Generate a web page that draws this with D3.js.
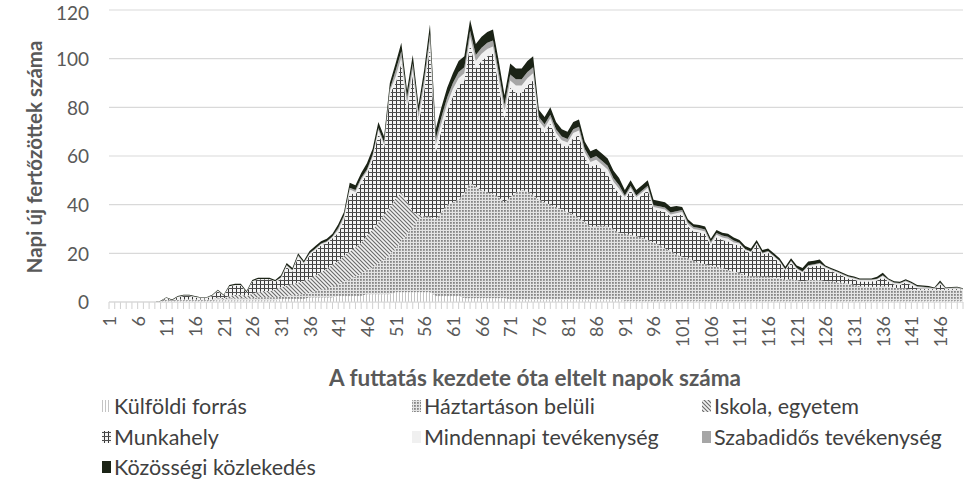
<!DOCTYPE html>
<html><head><meta charset="utf-8">
<script src="https://cdn.jsdelivr.net/npm/d3@7/dist/d3.min.js"></script>
<style>body{margin:0;background:#fff;} text{font-family:Lato,"Open Sans",sans-serif;}</style>
</head><body><svg id="c" width="966" height="484"></svg>
<script>
// ---- DATA ----
const days = d3.range(1, 151);
const xTickLabels = ["1","6","11","16","21","26","31","36","41","46","51","56","61","66","71","76","81","86","91","96","101","106","111","116","121","126","131","136","141","146"];
const yTicks = [0,20,40,60,80,100,120];
const seriesNames = ["Külföldi forrás","Háztartáson belüli","Iskola, egyetem","Munkahely","Mindennapi tevékenység","Szabadidős tevékenység","Közösségi közlekedés"];

const kulfoldi = [0,0,0,0,0,0,0,0,0,0.3,
 0.5,0.5,0.5,0.5,0.5,0.5,0.5,0.5,0.5,0.7,
 0.7,0.7,0.7,0.7,0.7,0.7,0.7,0.7,0.7,0.7,
 1.2,1.2,1.2,1.2,1.2,1.8,1.8,1.8,1.8,1.8,
 2.5,2.5,2.5,2.5,2.5,3.2,3.2,3.2,3.2,3.2,
 4,4,4,4,4,4,4,2.5,2.5,2.5,
 2.5,2.5,1.5,1.5,1.5,1.5,1.5,1.5,1.5,1.5,
 1,1,1,1,1,1,1,1,1,1,
 1,1,1,1,1,1,1,1,1,1,
 0.5,0.5,0.5,0.5,0.5,0.5,0.5,0.5,0.5,0.5,
 0.5,0.5,0.5,0.5,0.5,0.5,0.5,0.5,0.5,0.5,
 0.5,0.5,0.5,0.5,0.5,0.5,0.5,0.5,0.5,0.5,
 0.5,0.5,0.5,0.5,0.5,0.5,0.5,0.5,0.5,0.5,
 0.5,0.5,0.5,0.5,0.5,0.5,0.5,0.5,0.5,0.5,
 0.5,0.5,0.5,0.5,0.5,0.5,0.5,0.5,0.5,0.5];
const haztartas = [0,0,0,0,0,0,0,0,0,0,
 0.5,0,0.5,0.5,0.5,0.5,0.5,0.5,0.5,0.8,
 0.3,0.8,0.8,0.8,0.8,0.8,1.3,1.3,1.3,1.3,
 1,1.3,1.6,1.8,2.1,2,2.6,3.2,3.9,4.7,
 4.8,6,7,8,9,9.8,11.1,12.5,14.3,16.3,
 18,21,24,27,30,31,31,31.5,34.5,37.5,
 38.5,39.5,43.5,47.5,46,44.5,43.5,43,41.5,39.5,
 42,44,45,44.5,43,41,40,39,38,37,
 36,35,33.5,32,30,30,30.5,30,29,27.5,
 27.5,27,26.5,26,25,24,23,21.5,20.5,19,
 18.1,17.5,16.5,15.5,15,14.5,14,13.5,12.5,12,
 11.5,10.5,10,10,9.9,9.9,9.5,9.5,8.5,9,
 8.5,7.8,8.5,8.5,8.5,8,8,7.5,7.5,7,
 6.5,6,5.8,5.8,5.8,6,5.8,5.5,5,5,
 4.5,4.5,4.5,4.5,4.5,4.5,4.5,4.5,4.5,4.2];
const iskola = [0,0,0,0,0,0,0,0,0,0,
 0,0,0,0,0,0,0,0,0,0.5,
 0.5,1,1.5,1.5,1,2,2,2.5,2.5,3,
 4,4.3,4.6,5,5.3,5.8,6.5,7.2,8,8.8,
 9.6,10.5,11.3,12,13,14.3,15.5,17,18.5,19.5,
 20.5,20,13.5,6,2,0,0,0,0,0,
 0,0,0,0,0,0,0,0,0,0,
 0,0,0,0,0,0,0,0,0,0,
 0,0,0,0,0,0,0,0,0,0,
 0,0,0,0,0,0,0,0,0,0,
 0,0,0,0,0,0,0,0,0,0,
 0,0,0,0,0,0,0,0,0,0,
 0,0,0,0,0,0,0,0,0,0,
 0,0,0,0,0,0,0,0,0,0,
 0,0,0,0,0,0,0,0,0,0];
const munkahely = [0,0,0,0,0,0,0,0,0,0,
 0.5,0.1,1,1.5,1.5,1,0.5,0.5,1.5,2.5,
 1,3.8,3.8,3.8,1.3,4.8,5.3,4.8,4.8,3.3,
 3.2,7.6,5,10.4,6.8,9.6,10.3,11,10.5,10.9,
 11.6,14.5,24.2,21.5,24.5,25.2,28.7,36.8,27.5,46.5,
 47.5,53,37.5,56,37,52,70,27.5,33.5,38.5,
 43.5,47,46,57,48.5,53,56,57.5,46,34.5,
 45,41,40,43.5,47,30.5,28.5,33.5,28.5,26.5,
 26.5,31.5,34,26.5,24.5,25.5,23,21.5,17.5,16,
 14,18.5,15,17.5,20.5,13.5,14,15,14,16,
 17.4,13,12,12.6,12.5,8,12.1,11.5,12,11,
 11.5,10,9.5,13,9,9.8,8.2,6.2,3.7,6.7,
 4.2,3.4,5.3,5.7,6.2,5.2,4.2,3.7,2.7,2.2,
 2.2,1.9,2.1,2.1,2.5,3.7,2.1,1.2,1.5,2.5,
 2,0.7,0.5,0.5,0.2,2.2,0.2,0.4,0.4,0.2];
const mindennapi = [0,0,0,0,0,0,0,0,0,0,
 0.2,0.1,0.2,0.2,0.2,0.2,0.2,0.2,0.2,0.2,
 0.2,0.2,0.2,0.2,0.2,0.2,0.2,0.2,0.2,0.2,
 0.5,0.5,0.5,0.5,0.5,0.5,0.5,0.5,0.5,0.5,
 1.2,1.2,1.2,1.2,1.2,1.2,1.2,1.2,1.2,1.2,
 2.5,2.5,2.5,2.5,2.5,2.5,2.5,3,3,3,
 3,3,3,3,3,3,3,3,3,3,
 3,3,3,3,3,2,2,2,2,2,
 2,2,2,2,2,2,2,2,2,2,
 1,1,1,1,1,1,1,1,1,1,
 1,1,1,1,1,1,1,1,1,1,
 0.5,0.5,0.5,0.5,0.5,0.5,0.5,0.5,0.5,0.5,
 0.5,0.5,0.5,0.5,0.5,0.5,0.5,0.5,0.5,0.5,
 0.5,0.5,0.5,0.5,0.5,0.5,0.5,0.5,0.5,0.5,
 0.5,0.5,0.5,0.3,0.2,0.5,0.2,0.2,0.3,0.2];
const szabadido = [0,0,0,0,0,0,0,0,0,0,
 0,0,0,0,0,0,0,0,0,0,
 0,0,0,0,0,0,0,0,0,0,
 0.3,0.3,0.3,0.3,0.3,0.3,0.3,0.3,0.3,0.3,
 0.8,0.8,0.8,0.8,0.8,0.8,0.8,0.8,0.8,0.8,
 2.5,2.5,2.5,2.5,2.5,2.5,2.5,2.5,2.5,2.5,
 2.5,2.5,2.5,2.5,2.5,2.5,2.5,2.5,2.5,2.5,
 2.5,2.5,2.5,2.5,2.5,1.5,1.5,1.5,1.5,1.5,
 1.5,1.5,1.5,1.5,1.5,1.5,1.5,1.5,1.5,1.5,
 0.8,0.8,0.8,0.8,0.8,0.8,0.8,0.8,0.8,0.8,
 0.8,0.8,0.8,0.8,0.8,0.8,0.8,0.8,0.8,0.8,
 0.3,0.3,0.3,0.3,0.3,0.3,0.3,0.3,0.3,0.3,
 0.3,0.3,0.3,0.3,0.3,0.3,0.3,0.3,0.3,0.3,
 0.3,0.3,0.3,0.3,0.3,0.3,0.3,0.3,0.3,0.3,
 0.3,0.3,0.3,0.3,0.3,0.3,0.3,0.3,0.3,0.3];
const kozossegi = [0,0,0,0,0,0,0,0,0,0.2,
 0.3,0.3,0.3,0.3,0.3,0.3,0.3,0.3,0.3,0.3,
 0.3,0.5,0.5,0.5,0.5,0.5,0.5,0.5,0.5,0.5,
 0.8,0.8,0.8,0.8,0.8,1,1,1,1,1,
 1.5,1.5,2,2,2,2.5,2.5,2.5,2.5,2.5,
 3,3.5,3,3.5,3,3.5,4,4,4,4,
 4,4.5,4.5,4.5,4.5,4.5,4.5,4.5,4.5,4,
 4.5,4.5,4.5,4.5,4.5,3,3,3,3,3,
 3,3,3,3,3,3,3,3,3,3,
 2.2,2.2,2.2,2.2,2.2,2.2,2.2,2.2,2.2,2.2,
 1.2,1.2,1.2,1.2,1.2,1.2,1.2,1.2,1.2,1.2,
 1.2,1.2,1.2,1.2,1.2,1,1,1,1,1,
 1,1.5,1.5,1.5,1.5,0.5,0.5,0.5,0.5,0.5,
 0.5,0.5,0.5,0.5,0.8,1,0.5,0.5,0.5,0.5,
 0.5,0.5,0.5,0.5,0.3,0.8,0.3,0.3,0.3,0.2];

// ---- BUILD ----
const keys = ["k","h","i","w","m","s","t"];
const seriesArrays = [kulfoldi, haztartas, iskola, munkahely, mindennapi, szabadido, kozossegi];
const table = days.map((d, j) => {
  const row = {day: d};
  keys.forEach((k, i) => row[k] = seriesArrays[i][j]);
  return row;
});

const svg = d3.select("#c");
const defs = svg.append("defs");

function pat(id, w, h, draw) {
  const p = defs.append("pattern").attr("id", id).attr("patternUnits", "userSpaceOnUse")
    .attr("width", w).attr("height", h);
  draw(p);
}
pat("pK", 3, 3, p => {
  p.append("rect").attr("width", 3).attr("height", 3).attr("fill", "#fff");
  p.append("rect").attr("width", 1).attr("height", 3).attr("fill", "#c4c4c4");
});
pat("pH", 3, 3, p => {
  p.append("rect").attr("width", 3).attr("height", 3).attr("fill", "#e4e4e4");
  p.append("rect").attr("width", 1.8).attr("height", 1.8).attr("fill", "#858585");
});
pat("pI", 4, 4, p => {
  p.append("rect").attr("width", 4).attr("height", 4).attr("fill", "#f2f2f2");
  p.append("path").attr("d", "M0,0L4,4M-1,3L1,5M3,-1L5,1").attr("stroke", "#6a6a6a").attr("stroke-width", 1.1);
});
pat("pW", 4, 4, p => {
  p.append("rect").attr("width", 4).attr("height", 4).attr("fill", "#f4f4f4");
  p.append("rect").attr("width", 1).attr("height", 4).attr("fill", "#383838");
  p.append("rect").attr("width", 4).attr("height", 1).attr("fill", "#4e4e4e");
});
const fills = ["url(#pK)", "url(#pH)", "url(#pI)", "url(#pW)", "#f0f0f0", "#a6a6a6", "#1b2316"];

const x = d3.scaleLinear().domain([1, 150]).range([109, 963]);
const y = d3.scaleLinear().domain([0, 120]).range([302, 10]);

svg.append("g").selectAll("line").data(yTicks).join("line")
  .attr("x1", 109).attr("x2", 963)
  .attr("y1", d => y(d)).attr("y2", d => y(d))
  .attr("stroke", "#d9d9d9").attr("stroke-width", 1.2);

const layers = d3.stack().keys(keys)(table);
const area = d3.area().x(d => x(d.data.day)).y0(d => y(d[0])).y1(d => y(d[1]));
svg.append("g").selectAll("path").data(layers).join("path")
  .attr("d", area).attr("fill", (d, i) => fills[i]);

svg.append("g").selectAll("line").data(days).join("line")
  .attr("x1", d => x(d)).attr("x2", d => x(d))
  .attr("y1", 302).attr("y2", 309)
  .attr("stroke", "#d0d0d0").attr("stroke-width", 1);
svg.append("line").attr("x1", 109).attr("x2", 963).attr("y1", 302).attr("y2", 302)
  .attr("stroke", "#d9d9d9").attr("stroke-width", 1);

const yAxis = d3.axisLeft(y).tickValues(yTicks).tickSize(0).tickPadding(0);
const yg = svg.append("g").attr("transform", "translate(89,0)").call(yAxis);
yg.select(".domain").remove();
yg.selectAll("text").attr("fill", "#595959").style("font-size", "19px")
  .attr("dy", d => d === 120 ? "0.5em" : "0.36em");

const xAxis = d3.axisBottom(x).tickValues(xTickLabels.map(Number)).tickSize(0).tickFormat((d, i) => xTickLabels[i]);
const xg = svg.append("g").attr("transform", "translate(0,316)").call(xAxis);
xg.select(".domain").remove();
xg.selectAll("text").attr("fill", "#595959").style("font-size", "18px")
  .attr("transform", "rotate(-90)").attr("text-anchor", "end")
  .attr("x", 0).attr("y", 0).attr("dy", "0.36em");

svg.append("text").attr("transform", "translate(42,157) rotate(-90)")
  .attr("text-anchor", "middle").attr("fill", "#595959")
  .style("font-size", "20.5px").style("font-weight", "bold").text("Napi új fertőzöttek száma");
svg.append("text").attr("x", 535).attr("y", 386).attr("text-anchor", "middle")
  .attr("fill", "#595959").style("font-size", "22.5px").style("font-weight", "bold")
  .text("A futtatás kezdete óta eltelt napok száma");

const legCols = [102, 412, 702];
const legRows = [406, 437, 467];
const leg = svg.append("g");
seriesNames.forEach((name, i) => {
  const cx = legCols[i % 3], cy = legRows[Math.floor(i / 3)];
  leg.append("rect").attr("x", cx).attr("y", cy - 6).attr("width", 9).attr("height", 12)
    .attr("fill", fills[i]);
  leg.append("text").attr("x", cx + 12).attr("y", cy).attr("dy", "0.35em")
    .attr("fill", "#404040").style("font-size", "21.5px").text(name);
});
</script></body></html>
